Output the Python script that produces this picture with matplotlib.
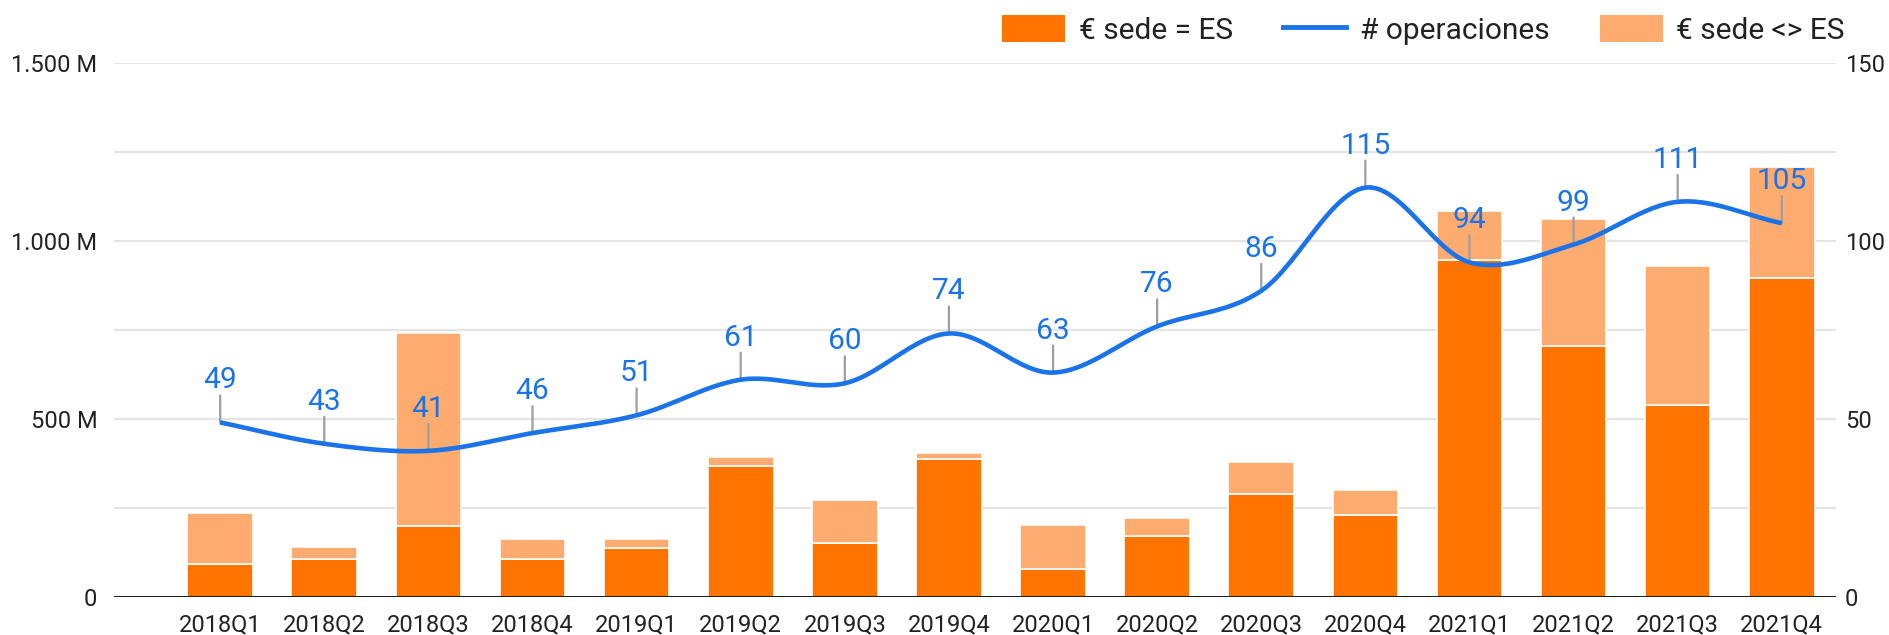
import numpy as np
import matplotlib
matplotlib.use("Agg")
import matplotlib.pyplot as plt
from matplotlib.patches import Patch
from matplotlib.lines import Line2D

plt.rcParams['font.family'] = ['Roboto', 'DejaVu Sans']

# data (M EUR and number of deals per quarter)
quarters = ["2018Q1", "2018Q2", "2018Q3", "2018Q4", "2019Q1", "2019Q2", "2019Q3", "2019Q4",
            "2020Q1", "2020Q2", "2020Q3", "2020Q4", "2021Q1", "2021Q2", "2021Q3", "2021Q4"]
sede_es = [92, 105, 198, 105, 137, 367, 150, 386, 77, 171, 289, 230, 946, 704, 539, 895]
sede_total = [234, 141, 741, 163, 161, 392, 273, 405, 201, 222, 380, 300, 1083, 1062, 931, 1208]
operaciones = [49, 43, 41, 46, 51, 61, 60, 74, 63, 76, 86, 115, 94, 99, 111, 105]

sede_no_es = [t - e for t, e in zip(sede_total, sede_es)]

DARK = "#FF7300"
LIGHT = "#FDAB6F"
BLUE = "#1A73E8"


def smooth(x, y, n=30):
    # catmull-rom style curve through the points
    x = np.asarray(x, float)
    y = np.asarray(y, float)
    m = np.zeros_like(y)
    m[1:-1] = (y[2:] - y[:-2]) / 2
    m[0] = y[1] - y[0]
    m[-1] = y[-1] - y[-2]
    xs, ys = [], []
    for i in range(len(x) - 1):
        t = np.linspace(0, 1, n)
        h00 = 2*t**3 - 3*t**2 + 1
        h10 = t**3 - 2*t**2 + t
        h01 = -2*t**3 + 3*t**2
        h11 = t**3 - t**2
        xs.append(x[i] + t * (x[i+1] - x[i]))
        ys.append(h00*y[i] + h10*m[i] + h01*y[i+1] + h11*m[i+1])
    return np.concatenate(xs), np.concatenate(ys)


fig = plt.figure(figsize=(18.9, 6.35), dpi=100)
ax = fig.add_axes([0.0603, 0.0603, 0.9111, 0.8403])
ax2 = ax.twinx()

x = np.arange(len(quarters))
ax.bar(x, sede_es, width=0.63, color=DARK, edgecolor="white", linewidth=1.2, zorder=2)
ax.bar(x, sede_no_es, width=0.63, bottom=sede_es, color=LIGHT, edgecolor="white",
       linewidth=1.2, zorder=2)

ax.set_xlim(-1.02, 15.52)
ax.set_ylim(0, 1500)
ax.set_yticks([0, 500, 1000, 1500])
ax.set_yticklabels(["0", "500 M", "1.000 M", "1.500 M"])
ax.set_yticks([250, 750, 1250], minor=True)
ax.grid(axis="y", which="both", color="#e4e4e4", linewidth=1.6, zorder=0)
ax.set_axisbelow(True)
ax.set_xticks(x)
ax.set_xticklabels(quarters)
ax.axhline(0, color="#222222", linewidth=2.2, zorder=5)

for a in (ax, ax2):
    for s in a.spines.values():
        s.set_visible(False)
    a.tick_params(length=0, labelsize=17, labelcolor="#222222")
ax.tick_params(axis="y", which="minor", length=0)
ax.tick_params(axis="x", pad=12)
ax.tick_params(axis="y", pad=12)

ax2.set_ylim(0, 150)
ax2.set_yticks([0, 50, 100, 150])
ax2.tick_params(axis="y", pad=6.5)

sx, sy = smooth(x, operaciones)
ax2.plot(sx, sy, color=BLUE, linewidth=3.3, zorder=4, solid_capstyle="butt")
for xi, v in zip(x, operaciones):
    ax2.annotate("", xy=(xi, v), xytext=(0, 27), textcoords="offset pixels",
                 arrowprops=dict(arrowstyle="-", color="#9e9e9e", lw=1.6,
                                 shrinkA=0, shrinkB=0))
    ax2.annotate(str(v), xy=(xi, v), xytext=(0, 34), textcoords="offset pixels",
                 ha="center", va="baseline", fontsize=21.5, color=BLUE)

handles = [Patch(facecolor=DARK), Line2D([0], [0], color=BLUE, linewidth=3.5),
           Patch(facecolor=LIGHT)]
labels = ["€ sede = ES", "# operaciones", "€ sede <> ES"]
fig.legend(handles, labels, ncol=3, loc="center right", bbox_to_anchor=(0.976, 0.953),
           frameon=False, fontsize=21.5, handlelength=2.1, handleheight=1.0,
           handletextpad=0.45, columnspacing=1.7, labelcolor="#222222",
           borderaxespad=0, borderpad=0)

fig.savefig("out.png", dpi=100)
